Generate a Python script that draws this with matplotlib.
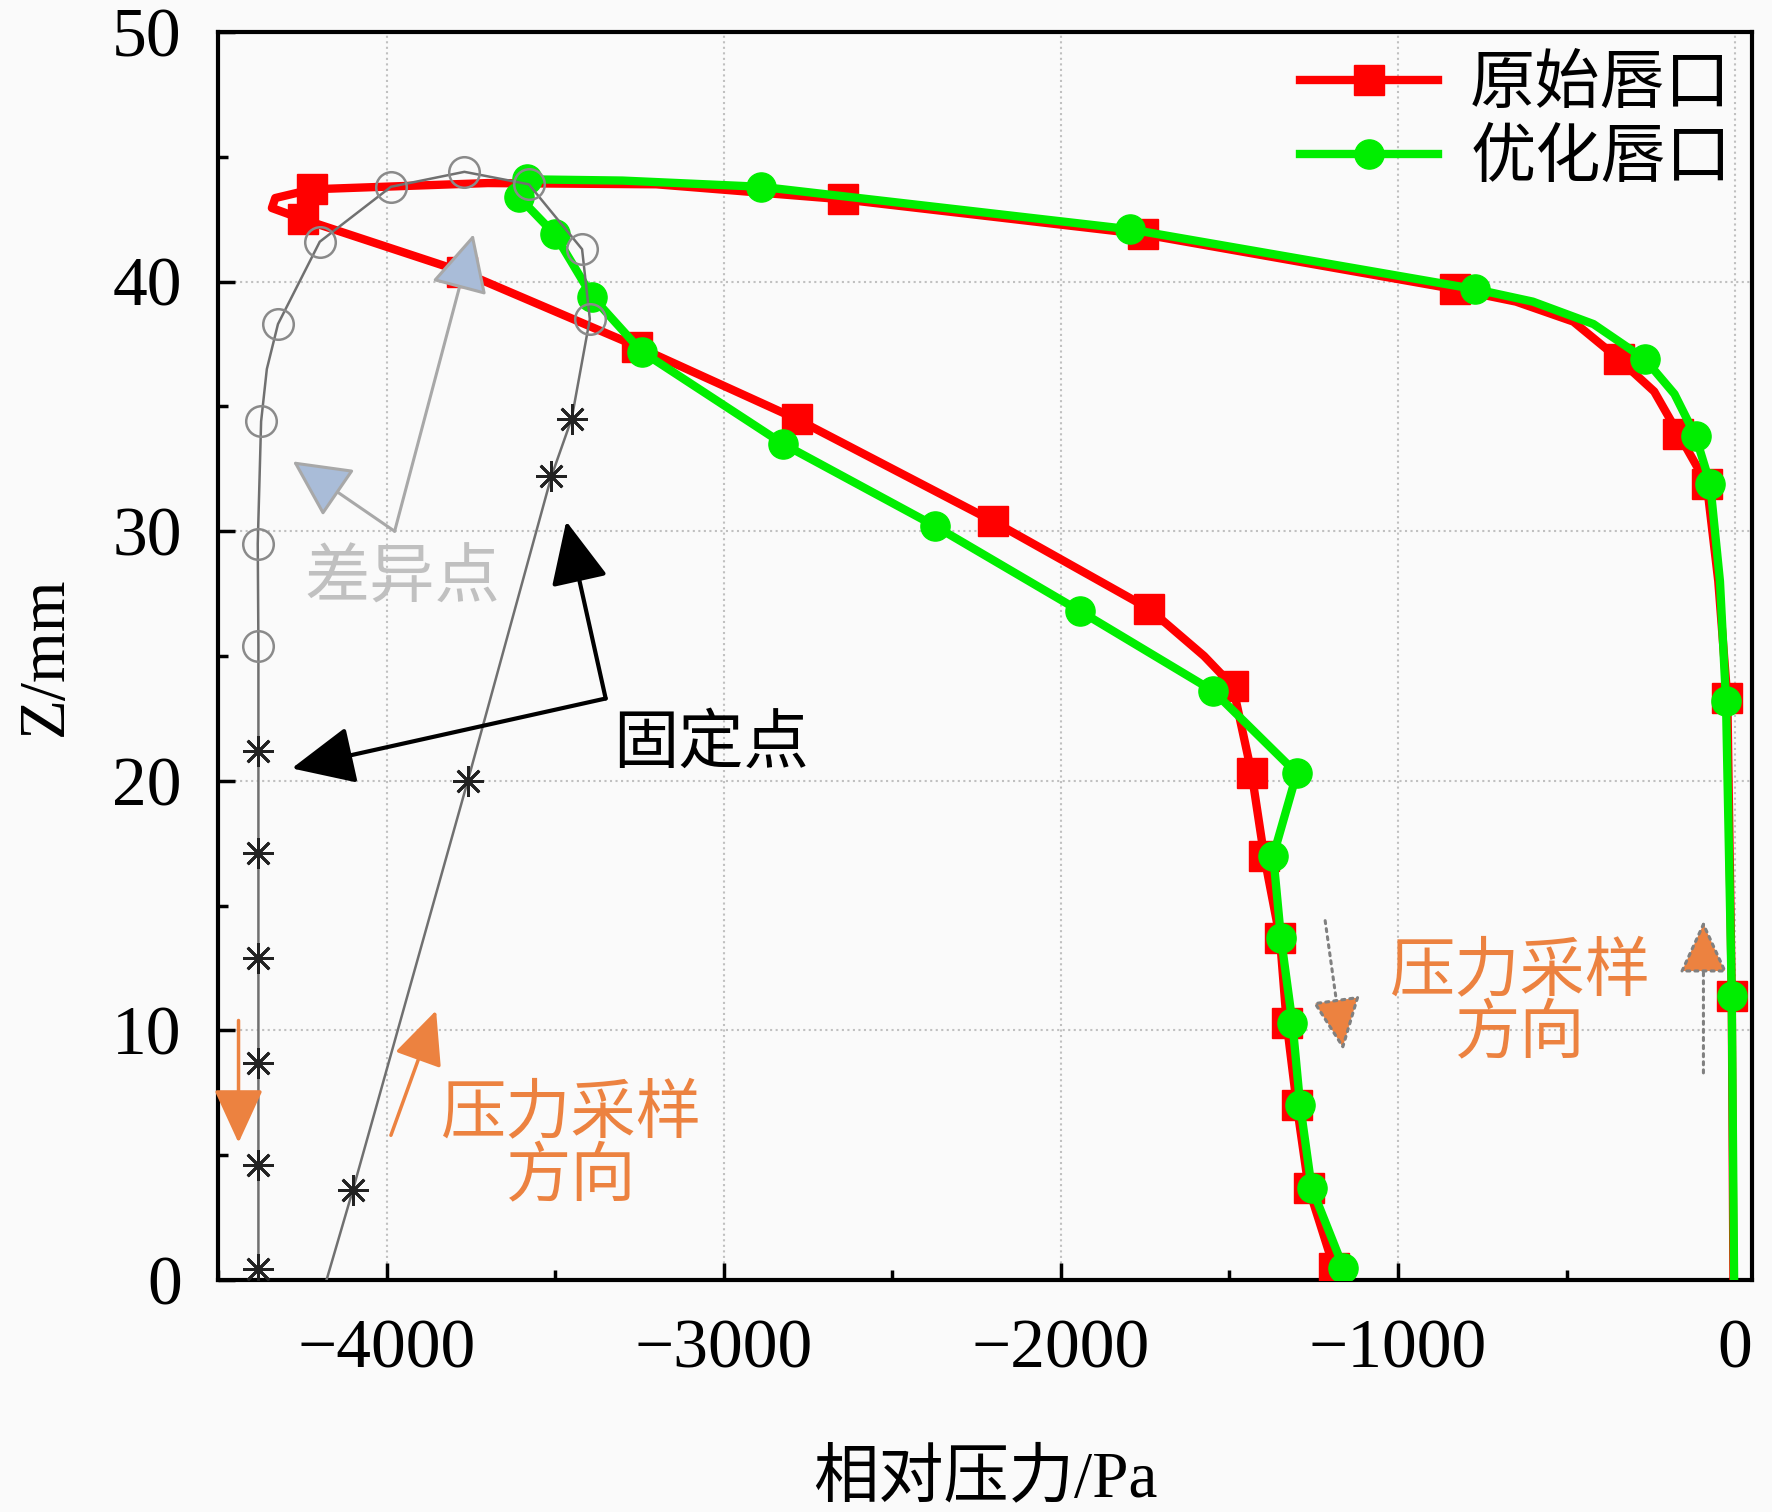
import matplotlib
matplotlib.use("Agg")
import matplotlib.pyplot as plt
from matplotlib.ticker import MultipleLocator

plt.rcParams['font.family'] = ['Liberation Serif', 'Noto Sans CJK SC']
plt.rcParams['axes.unicode_minus'] = True

# 原始唇口 (红, 方块)
p_orig = [-1190, -1265, -1300, -1330, -1350, -1397, -1434, -1490, -1575, -1739,
          -2201, -2784, -3256, -3776, -4248, -4340, -4330, -4221, -3700, -3200,
          -2647, -1755, -831, -650, -480, -345, -240, -168, -84, -50, -23, -10, -5]
z_orig = [0.5, 3.7, 7.0, 10.3, 13.7, 17.0, 20.3, 23.8, 25.0, 26.9,
          30.4, 34.5, 37.4, 40.4, 42.5, 42.95, 43.35, 43.7, 43.95, 43.9,
          43.3, 41.9, 39.7, 39.2, 38.4, 36.9, 35.6, 33.9, 31.9, 28.0, 23.3, 11.4, 0.0]
mk_orig = [0, 1, 2, 3, 4, 5, 6, 7, 9, 10, 11, 12, 13, 14, 17, 20, 21, 22, 25, 27, 28, 30, 31]

# 优化唇口 (绿, 圆点)
p_opt = [-1162, -1256, -1290, -1313, -1347, -1370, -1300, -1548, -1943, -2372,
         -2824, -3243, -3390, -3501, -3608, -3582, -3300, -2888, -1796, -771,
         -600, -420, -268, -180, -117, -74, -45, -27, -10, -3]
z_opt = [0.5, 3.7, 7.0, 10.3, 13.7, 17.0, 20.3, 23.6, 26.8, 30.2,
         33.5, 37.2, 39.4, 41.9, 43.4, 44.1, 44.05, 43.8, 42.1, 39.7,
         39.2, 38.3, 36.9, 35.5, 33.8, 31.9, 28.0, 23.2, 11.4, 0.0]
mk_opt = [0, 1, 2, 3, 4, 5, 6, 7, 8, 9, 10, 11, 12, 13, 14, 15, 17, 18, 19, 22, 24, 25, 27, 28]

# 唇口轮廓 (灰线), 固定点与差异点
p_lip = [-4380, -4380, -4380, -4380, -4380, -4380, -4380, -4382, -4372, -4355,
         -4322, -4198, -3987, -3769, -3578, -3420, -3397, -3451, -3511, -3759,
         -4100, -4178]
z_lip = [0.45, 4.6, 8.7, 12.9, 17.1, 21.2, 25.4, 29.5, 34.4, 36.5,
         38.3, 41.6, 43.8, 44.4, 43.9, 41.3, 38.5, 34.5, 32.2, 20.0,
         3.6, 0.0]
fixed_idx = [0, 1, 2, 3, 4, 5, 17, 18, 19, 20]
diff_idx = [6, 7, 8, 10, 11, 12, 13, 14, 15, 16]

fig = plt.figure(figsize=(17.72, 15.12), dpi=100, facecolor='#fafafa')
ax = fig.add_axes([0.123, 0.1534, 0.8657, 0.8254])
ax.set_facecolor('#fafafa')

ax.plot(p_orig, z_orig, color='#ff0000', lw=6, marker='s', ms=21,
        markevery=mk_orig, label='原始唇口', zorder=3)
ax.plot(p_opt, z_opt, color='#00ee00', lw=6, marker='o', ms=21,
        markevery=mk_opt, label='优化唇口', zorder=4)

ax.plot(p_lip, z_lip, color='#707070', lw=1.8, zorder=5)
ax.plot([p_lip[i] for i in diff_idx], [z_lip[i] for i in diff_idx], ls='none',
        marker='o', ms=22, mfc='none', mec='#8a8a8a', mew=1.8, zorder=6)
ax.plot([p_lip[i] for i in fixed_idx], [z_lip[i] for i in fixed_idx], ls='none',
        marker=(8, 2, 0), ms=22, mec='#222222', mew=2, zorder=6)

ax.set_xlim(-4500, 50)
ax.set_ylim(0, 50)
ax.xaxis.set_major_locator(MultipleLocator(1000))
ax.xaxis.set_minor_locator(MultipleLocator(500))
ax.yaxis.set_major_locator(MultipleLocator(10))
ax.yaxis.set_minor_locator(MultipleLocator(5))
ax.tick_params(which='both', direction='in', width=2.5, labelsize=50)
ax.tick_params(axis='x', which='both', pad=28)
ax.tick_params(axis='y', which='both', pad=26)
ax.tick_params(which='major', length=12)
ax.tick_params(which='minor', length=7)
for s in ax.spines.values():
    s.set_linewidth(3)
ax.grid(True, which='major', ls=':', lw=1.5, color='#c0c0c0')
ax.set_axisbelow(True)

ax.set_xlabel('相对压力/Pa', fontsize=47, labelpad=48)
ax.set_ylabel('Z/mm', fontsize=47, labelpad=26)

leg = ax.legend(loc='upper right', bbox_to_anchor=(1.012, 1.012), fontsize=47,
                frameon=False, handlelength=2.1, labelspacing=0.22,
                handletextpad=0.5, borderaxespad=0.2)

# 差异点
ax.text(-3953, 28.0, '差异点', fontsize=47, color='#c0c0c0', ha='center', va='center')
for tip in [(-3742, 41.9), (-4278, 32.8)]:
    ax.annotate('', xy=tip, xytext=(-3976, 30.0),
                arrowprops=dict(arrowstyle='-|>,head_length=1.3,head_width=0.65',
                                mutation_scale=28, lw=2.2, ec='#a8a8a8', fc='#a9bcd8',
                                shrinkA=0, shrinkB=0), zorder=7)

# 固定点
ax.text(-3039, 21.4, '固定点', fontsize=47, color='black', ha='center', va='center')
for tip in [(-3467, 30.4), (-4281, 20.5)]:
    ax.annotate('', xy=tip, xytext=(-3350, 23.3),
                arrowprops=dict(arrowstyle='-|>,head_length=1.3,head_width=0.6',
                                mutation_scale=30, lw=3, color='black',
                                shrinkA=0, shrinkB=0), zorder=7)

# 压力采样方向
orange = '#ec8240'
ax.text(-3451, 5.3, '压力采样\n方向', fontsize=47, color=orange, ha='center',
        va='center', linespacing=1.05)
ax.text(-637, 11.0, '压力采样\n方向', fontsize=47, color=orange, ha='center',
        va='center', linespacing=1.05)
ax.annotate('', xy=(-3853, 10.8), xytext=(-3987, 5.8),
            arrowprops=dict(arrowstyle='-|>,head_length=1.2,head_width=0.55',
                            mutation_scale=28, lw=2.5, color=orange,
                            shrinkA=0, shrinkB=0), zorder=7)
ax.annotate('', xy=(-4439, 5.5), xytext=(-4439, 10.4),
            arrowprops=dict(arrowstyle='-|>,head_length=1.2,head_width=0.55',
                            mutation_scale=28, lw=2.5, color=orange,
                            shrinkA=0, shrinkB=0), zorder=7)
ax.annotate('', xy=(-1162, 9.2), xytext=(-1216, 14.4),
            arrowprops=dict(arrowstyle='-|>,head_length=1.2,head_width=0.55',
                            mutation_scale=28, lw=2.2, ls=':', ec='#808080', fc=orange,
                            shrinkA=0, shrinkB=0), zorder=7)
ax.annotate('', xy=(-94, 14.4), xytext=(-94, 8.3),
            arrowprops=dict(arrowstyle='-|>,head_length=1.2,head_width=0.55',
                            mutation_scale=28, lw=2.2, ls=':', ec='#808080', fc=orange,
                            shrinkA=0, shrinkB=0), zorder=7)

fig.savefig('out.png', dpi=100, facecolor=fig.get_facecolor())
